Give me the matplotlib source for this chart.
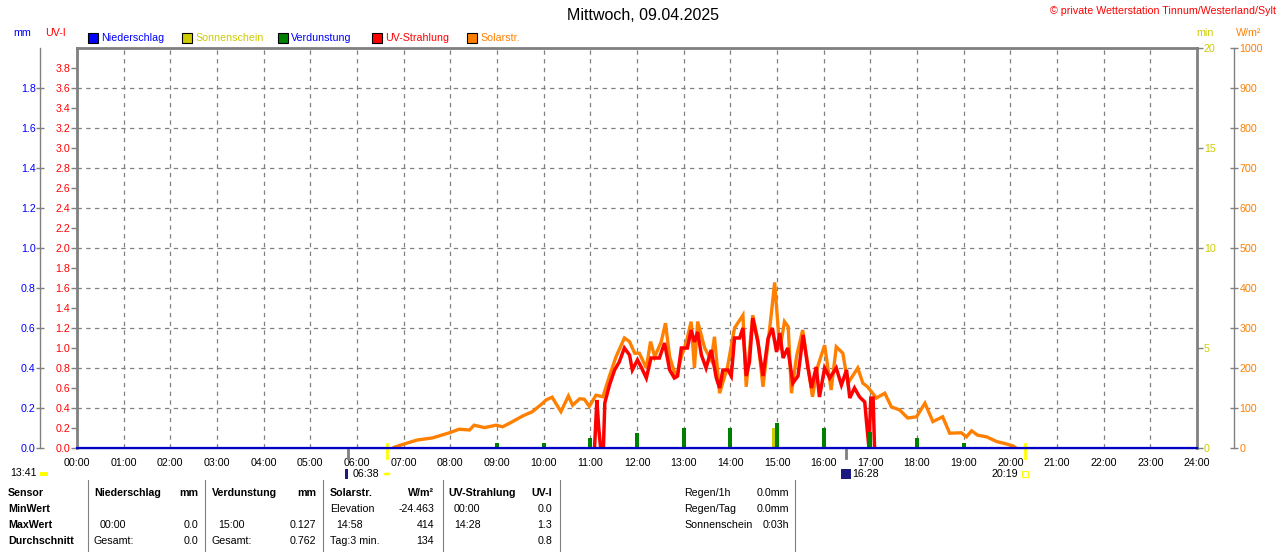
import matplotlib
matplotlib.use("Agg")
import matplotlib.pyplot as plt
import matplotlib.transforms as mtransforms
from matplotlib.patches import Rectangle
import numpy as np

plt.rcParams["font.family"] = ["Liberation Sans", "DejaVu Sans"]

# --- data (hours of day) ---
solar_t = [6.80, 7.01, 7.29, 7.61, 7.98, 8.19, 8.41, 8.51, 8.73, 8.98, 9.12, 9.27,
           9.55, 9.76, 9.98, 10.05, 10.18, 10.37, 10.53, 10.62, 10.77, 10.87, 10.98,
           11.12, 11.27, 11.41, 11.55, 11.73, 11.84, 11.95, 12.05, 12.20, 12.29, 12.38,
           12.52, 12.61, 12.70, 12.84, 12.95, 13.06, 13.16, 13.23, 13.30, 13.45, 13.59,
           13.66, 13.77, 13.94, 14.09, 14.27, 14.34, 14.48, 14.59, 14.70, 14.88, 14.95,
           15.06, 15.16, 15.24, 15.31, 15.42, 15.55, 15.76, 15.87, 16.02, 16.16, 16.27,
           16.41, 16.52, 16.73, 16.84, 16.94, 17.13, 17.31, 17.45, 17.63, 17.80, 17.99,
           18.17, 18.34, 18.55, 18.70, 18.95, 19.06, 19.17, 19.30, 19.49, 19.71, 19.92,
           20.06, 20.12]
solar_w = [2, 10, 20, 25, 38, 47, 45, 57, 51, 57, 53, 62,
           80, 91, 112, 120, 127, 91, 130, 107, 123, 122, 104,
           132, 128, 180, 228, 275, 266, 237, 237, 200, 266, 228,
           266, 312, 228, 175, 228, 266, 316, 200, 316, 250, 220,
           278, 137, 203, 300, 332, 153, 332, 270, 153, 337, 414,
           245, 316, 303, 137, 230, 295, 128, 203, 257, 145, 253,
           237, 162, 200, 162, 153, 125, 137, 103, 95, 75, 78,
           112, 66, 78, 37, 38, 28, 43, 32, 28, 16, 10,
           5, 0]

uv_t = [11.09, 11.14, 11.18, 11.22, 11.28, 11.31, 11.41, 11.52, 11.62, 11.73, 11.84,
        11.90, 12.01, 12.09, 12.20, 12.30, 12.48, 12.59, 12.70, 12.80, 12.87, 12.95,
        13.08, 13.16, 13.23, 13.30, 13.38, 13.48, 13.59, 13.70, 13.77, 13.84, 13.95,
        14.02, 14.09, 14.20, 14.27, 14.34, 14.41, 14.48, 14.59, 14.70, 14.81, 14.90,
        14.99, 15.06, 15.13, 15.23, 15.34, 15.45, 15.56, 15.66, 15.74, 15.84, 15.91,
        16.02, 16.13, 16.27, 16.38, 16.49, 16.56, 16.66, 16.77, 16.88, 16.93, 16.97,
        17.01, 17.06, 17.09]
uv_i = [0.0, 0.48, 0.2, 0.0, 0.0, 0.45, 0.63, 0.78, 0.86, 1.0, 0.93,
        0.78, 0.88, 0.81, 0.70, 0.9, 0.9, 1.05, 0.78, 0.70, 0.72, 1.0,
        1.0, 1.18, 1.06, 1.16, 0.93, 0.8, 0.98, 0.70, 0.60, 0.78, 0.78,
        0.72, 1.10, 1.10, 1.2, 0.72, 0.86, 1.3, 1.06, 0.72, 1.10, 1.2,
        0.96, 1.15, 0.90, 1.0, 0.65, 0.72, 1.13, 0.81, 0.60, 0.81, 0.51,
        0.80, 0.70, 0.80, 0.63, 0.78, 0.5, 0.60, 0.51, 0.46, 0.2, 0.0,
        0.5, 0.5, 0.0]

evap_t = [9, 10, 11, 12, 13, 14, 15, 16, 17, 18, 19]
evap_mm = [0.025, 0.025, 0.05, 0.075, 0.1, 0.1, 0.127, 0.1, 0.08, 0.05, 0.025]

rain_t = [0, 24]
rain_mm = [0.0, 0.0]

sun_t = [14.93]
sun_min = [1.0]

hour_labels = ["%02d:00" % h for h in range(25)]
uv_ticks = np.round(np.arange(0, 3.81, 0.2), 1)
mm_ticks = np.round(np.arange(0, 1.81, 0.2), 1)
min_ticks = [0, 5, 10, 15, 20]
w_ticks = list(range(0, 1001, 100))

# table texts
row_names = ["Sensor", "MinWert", "MaxWert", "Durchschnitt"]
rain_col = [("Niederschlag", "mm"), ("", ""), ("00:00", "0.0"), ("Gesamt:", "0.0")]
evap_col = [("Verdunstung", "mm"), ("", ""), ("15:00", "0.127"), ("Gesamt:", "0.762")]
solar_col = [("Solarstr.", "W/m²"), ("Elevation", "-24.463"), ("14:58", "414"), ("Tag:3 min.", "134")]
uv_col = [("UV-Strahlung", "UV-I"), ("00:00", "0.0"), ("14:28", "1.3"), ("", "0.8")]
extra_names = ["Regen/1h", "Regen/Tag", "Sonnenschein"]
extra_vals = ["0.0mm", "0.0mm", "0:03h"]

# colours
GRAY = "#808080"
RED = "#ff0000"
ORANGE = "#ff8000"
GREEN = "#008000"
BLUE = "#0000ff"
OLIVE = "#cccc00"
FS = 7.7

W, H = 1280, 552
fig = plt.figure(figsize=(W / 100, H / 100), dpi=100, facecolor="white")


def fx(x):
    return x / W


def fy(y):
    return 1 - y / H


L, R, T, B = 77, 1197, 48, 448
ax = fig.add_axes([fx(L), fy(B), (R - L) / W, (B - T) / H])
ax_w = ax.twinx()
ax_min = ax.twinx()
ax_mm = ax.twinx()

ax_w.set_zorder(1)
ax.set_zorder(2)
ax_min.set_zorder(3)
ax_mm.set_zorder(4)
ax.patch.set_visible(False)

ax.set_xlim(0, 24)
ax.set_ylim(0, 4)
ax_w.set_ylim(0, 1000)
ax_min.set_ylim(0, 20)
ax_mm.set_ylim(0, 2)

# grid (drawn on the lowest axes so curves sit above it)
for h in range(1, 24):
    ax_w.axvline(h, color=GRAY, lw=0.9, ls=(0, (3.5, 3.5)), zorder=0.5)
for v in range(100, 1000, 100):
    ax_w.axhline(v, color=GRAY, lw=0.9, ls=(0, (3.5, 3.5)), zorder=0.5)

# curves
ax_w.plot(solar_t, solar_w, color=ORANGE, lw=2.4, solid_joinstyle="miter")
ax.plot(uv_t, uv_i, color=RED, lw=2.5, solid_joinstyle="miter")
ax_min.bar(sun_t, sun_min, width=0.06, color=OLIVE)
ax_mm.bar(evap_t, evap_mm, width=0.08, color=GREEN)
ax_mm.plot(rain_t, rain_mm, color="#0000c8", lw=1.6, clip_on=False, zorder=5)

# main axis: UV-I on left, hours on bottom
ax.set_xticks(range(25))
ax.set_xticklabels(hour_labels)
ax.tick_params(axis="x", length=0, pad=7, labelsize=FS)
ax.set_yticks(uv_ticks)
ax.set_yticklabels(["%.1f" % v for v in uv_ticks])
ax.tick_params(axis="y", colors=GRAY, labelcolor=RED, labelsize=FS,
               length=4, width=1, pad=1, direction="out")
ax.spines["right"].set_visible(False)
for s in ("left", "top"):
    ax.spines[s].set_color(GRAY)
    ax.spines[s].set_linewidth(2.0)
ax.spines["bottom"].set_color(GRAY)
ax.spines["bottom"].set_linewidth(1.0)

# mm axis, left and outside
ax_mm.yaxis.tick_left()
ax_mm.yaxis.set_label_position("left")
ax_mm.spines["left"].set_position(("axes", (40 - L) / (R - L)))
ax_mm.spines["left"].set_color(GRAY)
ax_mm.spines["left"].set_linewidth(1.0)
for s in ("right", "top", "bottom"):
    ax_mm.spines[s].set_visible(False)
ax_mm.set_yticks(mm_ticks)
ax_mm.set_yticklabels(["%.1f" % v for v in mm_ticks])
ax_mm.tick_params(axis="y", colors=GRAY, labelcolor=BLUE, labelsize=FS,
                  length=6, width=1, pad=0, direction="inout")

# min axis, right edge of plot
for s in ("left", "top", "bottom"):
    ax_min.spines[s].set_visible(False)
ax_min.spines["right"].set_color(GRAY)
ax_min.spines["right"].set_linewidth(2.0)
ax_min.set_yticks(min_ticks)
ax_min.tick_params(axis="y", colors=GRAY, labelcolor=OLIVE, labelsize=FS,
                   length=4, width=1, pad=1, direction="out")

# W/m2 axis, right and outside
for s in ("left", "top", "bottom"):
    ax_w.spines[s].set_visible(False)
ax_w.spines["right"].set_position(("axes", 1 + 37 / (R - L)))
ax_w.spines["right"].set_color(GRAY)
ax_w.spines["right"].set_linewidth(1.0)
ax_w.set_yticks(w_ticks)
ax_w.tick_params(axis="y", colors=GRAY, labelcolor=ORANGE, labelsize=FS,
                 length=6, width=1, pad=1, direction="inout")

# sunrise / sunset and moon markers below the axis
trans = mtransforms.blended_transform_factory(ax.transData, ax.transAxes)
for t in (6.633, 20.317):
    ax.plot([t, t], [0.01, -0.024], color="#ffff00", lw=2, transform=trans, clip_on=False)
for t in (5.81, 16.47):
    ax.plot([t, t], [0.0, -0.025], color=GRAY, lw=2, transform=trans, clip_on=False)

# title and header labels
fig.text(fx(643), fy(15), "Mittwoch, 09.04.2025", ha="center", va="center", fontsize=11.5)
fig.text(fx(1276), fy(11), "© private Wetterstation Tinnum/Westerland/Sylt",
         ha="right", va="center", fontsize=FS, color=RED)
fig.text(fx(22), fy(33), "mm", ha="center", va="center", fontsize=FS, color=BLUE)
fig.text(fx(56), fy(33), "UV-I", ha="center", va="center", fontsize=FS, color=RED)
fig.text(fx(1205), fy(33), "min", ha="center", va="center", fontsize=FS, color=OLIVE)
fig.text(fx(1249), fy(33), "W/m²", ha="center", va="center", fontsize=FS, color=ORANGE)

legend_items = [("Niederschlag", BLUE, 88), ("Sonnenschein", OLIVE, 182),
                ("Verdunstung", GREEN, 278), ("UV-Strahlung", RED, 372),
                ("Solarstr.", ORANGE, 467)]
legend_text_col = {"Niederschlag": BLUE, "Sonnenschein": OLIVE, "Verdunstung": BLUE,
                   "UV-Strahlung": RED, "Solarstr.": ORANGE}
for name, col, x in legend_items:
    fig.patches.append(Rectangle((fx(x), fy(43)), 10 / W, 10 / H, facecolor=col,
                                 edgecolor="black", lw=0.8, transform=fig.transFigure))
    fig.text(fx(x + 13), fy(38), name, ha="left", va="center", fontsize=FS,
             color=legend_text_col[name])

# astro labels under the x axis
fig.text(fx(10), fy(473), "13:41", ha="left", va="center", fontsize=FS)
fig.patches.append(Rectangle((fx(40), fy(476)), 8 / W, 4 / H, facecolor="#ffff00",
                             edgecolor="none", transform=fig.transFigure))
fig.patches.append(Rectangle((fx(345), fy(479)), 3 / W, 10 / H, facecolor="#1a1a80",
                             edgecolor="none", transform=fig.transFigure))
fig.text(fx(353), fy(474), "06:38", ha="left", va="center", fontsize=FS)
fig.patches.append(plt.Circle((fx(387), fy(474)), 3.5 / W, facecolor="#ffff00",
                              edgecolor="none", transform=fig.transFigure))
fig.patches.append(Rectangle((fx(841), fy(479)), 10 / W, 10 / H, facecolor="#1a1a80",
                             edgecolor="none", transform=fig.transFigure))
fig.text(fx(852), fy(474), "16:28", ha="left", va="center", fontsize=FS)
fig.text(fx(1018), fy(474), "20:19", ha="right", va="center", fontsize=FS)
fig.patches.append(Rectangle((fx(1022), fy(477)), 6 / W, 6 / H, facecolor="none",
                             edgecolor="#ffff00", lw=0.8, transform=fig.transFigure))

# bottom table
for x in (88, 205, 323, 443, 560, 795):
    fig.add_artist(plt.Line2D([fx(x), fx(x)], [fy(480), 0], color=GRAY, lw=0.8))

row_y = [493, 509, 525, 541]
for i, name in enumerate(row_names):
    fig.text(fx(8), fy(row_y[i]), name, ha="left", va="center", fontsize=FS, weight="bold")

columns = [(rain_col, 94, 198), (evap_col, 212, 316), (solar_col, 330, 434), (uv_col, 448, 552)]
for col, xl, xr in columns:
    for i, (left, right) in enumerate(col):
        bold = "bold" if i == 0 else "normal"
        xoff = 6 if (i == 2 or (i == 1 and col is uv_col)) else 0
        fig.text(fx(xl + xoff), fy(row_y[i]), left, ha="left", va="center",
                 fontsize=FS, weight=bold)
        fig.text(fx(xr), fy(row_y[i]), right, ha="right", va="center",
                 fontsize=FS, weight=bold)

for i, (name, val) in enumerate(zip(extra_names, extra_vals)):
    fig.text(fx(684), fy(row_y[i]), name, ha="left", va="center", fontsize=FS)
    fig.text(fx(789), fy(row_y[i]), val, ha="right", va="center", fontsize=FS)

fig.savefig("out.png", dpi=100, facecolor="white")
